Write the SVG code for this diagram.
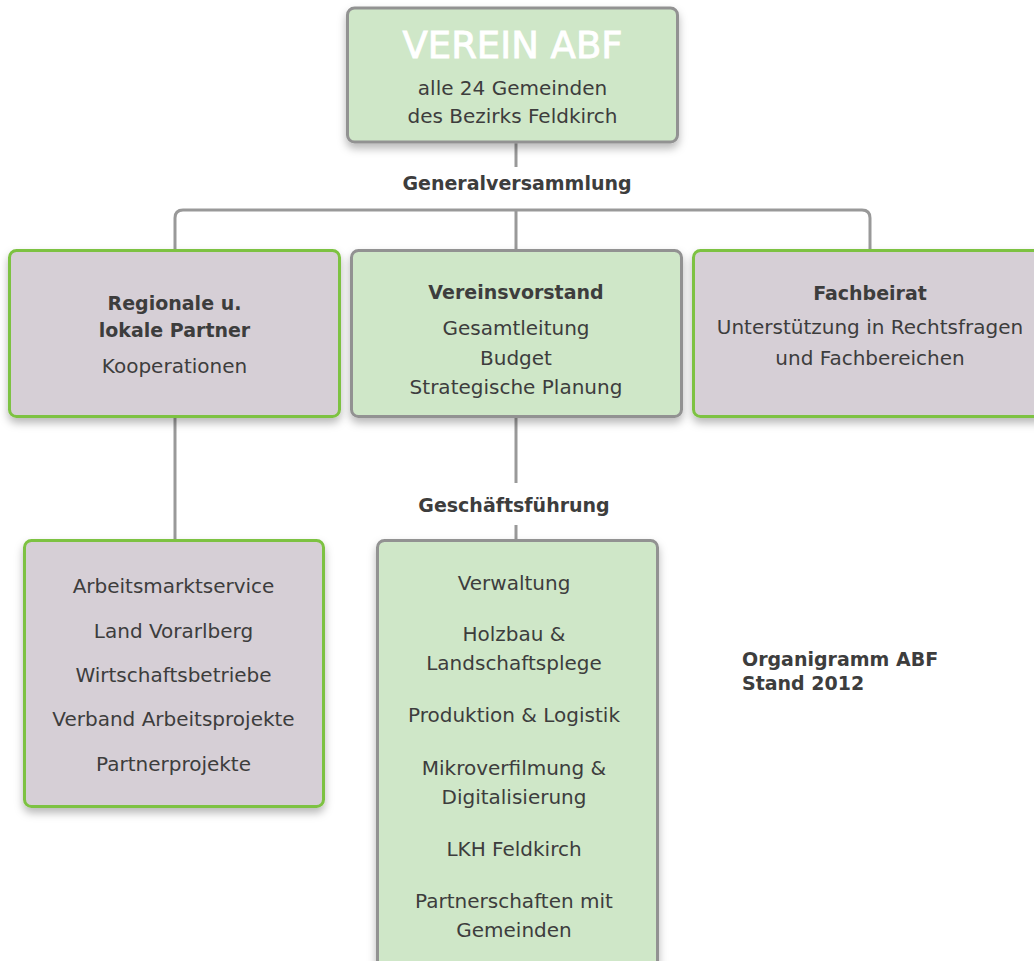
<svg xmlns="http://www.w3.org/2000/svg" width="1034" height="961" viewBox="0 0 1034 961">
<defs>
<filter id="sh" x="-10%" y="-10%" width="120%" height="125%">
<feDropShadow dx="0" dy="5" stdDeviation="4" flood-color="#000" flood-opacity="0.28"/>
</filter>
<style>
.g{fill:#cfe7c8;stroke:#929292;stroke-width:3}
.p{fill:#d6cfd6;stroke:#7dc242;stroke-width:3}
.c{fill:none;stroke:#999;stroke-width:3}
text{font-family:"DejaVu Sans","Liberation Sans",sans-serif;fill:#3d3d3d;text-anchor:middle;font-size:20px}
.b{font-weight:bold;font-size:19px}
.t{fill:#fff;font-size:37px;stroke:#fff;stroke-width:0.9}
</style>
</defs>
<rect width="1034" height="961" fill="#fff"/>
<g id="connectors">
<path class="c" d="M516 142 V167"/>
<path class="c" d="M175 250 V218 Q175 210 183 210 H862 Q870 210 870 218 V250"/>
<path class="c" d="M516 210 V250"/>
<path class="c" d="M175 417 V540"/>
<path class="c" d="M516 417 V483"/>
<path class="c" d="M516 525 V540"/>
</g>
<g id="verein">
<rect class="g" x="347.5" y="8" width="330" height="134" rx="7" filter="url(#sh)"/>
<text class="t" x="512.5" y="58">VEREIN ABF</text>
<text x="512.5" y="95">alle 24 Gemeinden</text>
<text x="512.5" y="123">des Bezirks Feldkirch</text>
</g>
<g id="generalversammlung">
<text class="b" x="517" y="190">Generalversammlung</text>
</g>
<g id="partner">
<rect class="p" x="9.5" y="250.5" width="330" height="166" rx="7" filter="url(#sh)"/>
<text class="b" x="174.5" y="310">Regionale u.</text>
<text class="b" x="174.5" y="337">lokale Partner</text>
<text x="174.5" y="373">Kooperationen</text>
</g>
<g id="vorstand">
<rect class="g" x="351.5" y="250.5" width="330" height="166" rx="7" filter="url(#sh)"/>
<text class="b" x="516" y="299">Vereinsvorstand</text>
<text x="516" y="335">Gesamtleitung</text>
<text x="516" y="365">Budget</text>
<text x="516" y="394">Strategische Planung</text>
</g>
<g id="fachbeirat">
<rect class="p" x="693.5" y="250.5" width="352" height="166" rx="7" filter="url(#sh)"/>
<text class="b" x="870" y="300">Fachbeirat</text>
<text x="870" y="334">Unterstützung in Rechtsfragen</text>
<text x="870" y="365">und Fachbereichen</text>
</g>
<g id="geschaeftsfuehrung">
<text class="b" x="514" y="512">Geschäftsführung</text>
</g>
<g id="kooperationen">
<rect class="p" x="24.5" y="540.5" width="299" height="266" rx="7" filter="url(#sh)"/>
<text x="173.5" y="593">Arbeitsmarktservice</text>
<text x="173.5" y="638">Land Vorarlberg</text>
<text x="173.5" y="682">Wirtschaftsbetriebe</text>
<text x="173.5" y="726">Verband Arbeitsprojekte</text>
<text x="173.5" y="771">Partnerprojekte</text>
</g>
<g id="bereiche">
<rect class="g" x="377.5" y="540.5" width="280" height="440" rx="7" filter="url(#sh)"/>
<text x="514" y="590">Verwaltung</text>
<text x="514" y="641">Holzbau &amp;</text>
<text x="514" y="670">Landschaftsplege</text>
<text x="514" y="722">Produktion &amp; Logistik</text>
<text x="514" y="775">Mikroverfilmung &amp;</text>
<text x="514" y="804">Digitalisierung</text>
<text x="514" y="856">LKH Feldkirch</text>
<text x="514" y="908">Partnerschaften mit</text>
<text x="514" y="937">Gemeinden</text>
</g>
<g id="caption">
<text class="b" x="742" y="666" style="text-anchor:start">Organigramm ABF</text>
<text class="b" x="742" y="690" style="text-anchor:start">Stand 2012</text>
</g>
</svg>
